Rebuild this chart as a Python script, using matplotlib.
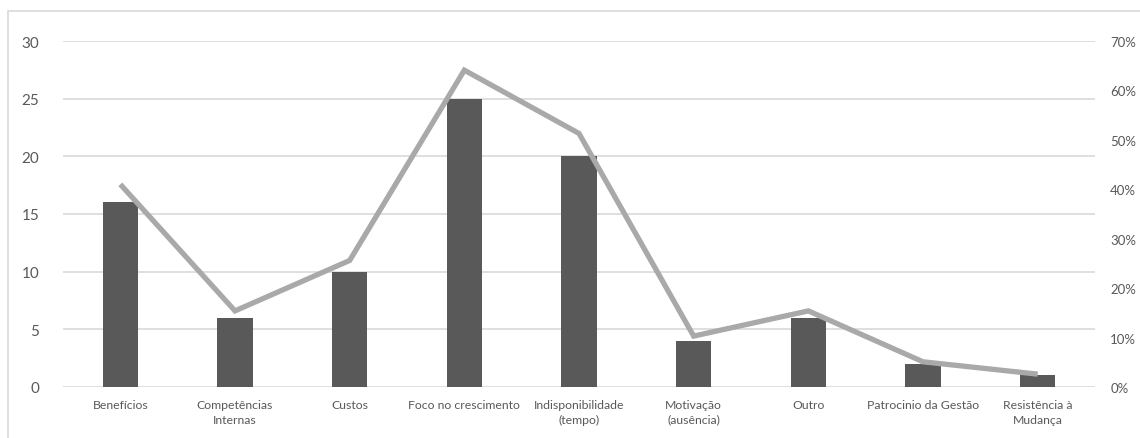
import matplotlib
matplotlib.use("Agg")
import matplotlib.pyplot as plt
from matplotlib.patches import Rectangle
from matplotlib.ticker import FuncFormatter, MultipleLocator

categories = ["Benefícios", "Competências\nInternas", "Custos", "Foco no crescimento",
              "Indisponibilidade\n(tempo)", "Motivação\n(ausência)", "Outro",
              "Patrocinio da Gestão", "Resistência à\nMudança"]
counts = [16, 6, 10, 25, 20, 4, 6, 2, 1]
percent = [41.0, 15.4, 25.6, 64.1, 51.3, 10.3, 15.4, 5.1, 2.6]

plt.rcParams['font.family'] = ['Lato', 'DejaVu Sans']
text_color = "#595959"

fig = plt.figure(figsize=(11.4, 4.39), dpi=100)
fig.patches.append(Rectangle((8 / 1140, -0.1), 1.2, (439 - 12) / 439 + 0.1,
                             transform=fig.transFigure, fill=False,
                             edgecolor="#D9D9D9", linewidth=1.2, zorder=0))

ax = fig.add_axes([63 / 1140, 51 / 439, 1032 / 1140, 346 / 439])
x = list(range(len(categories)))
ax.bar(x, counts, width=0.31, color="#595959", zorder=2)
ax.set_xlim(-0.5, len(categories) - 0.5)
ax.set_ylim(0, 30)
ax.yaxis.set_major_locator(MultipleLocator(5))
ax.grid(axis="y", color="#D9D9D9", linewidth=1.2, zorder=0)
ax.set_axisbelow(True)
for s in ax.spines.values():
    s.set_visible(False)
ax.set_xticks(x)
ax.set_xticklabels(categories, fontsize=8.8, color=text_color, linespacing=1.35)
ax.tick_params(axis="x", length=0, pad=9)
ax.tick_params(axis="y", length=0, pad=17, labelsize=11, labelcolor=text_color)

ax2 = ax.twinx()
ax2.plot(x, percent, color="#A9A9A9", linewidth=3.8, solid_capstyle="butt",
         solid_joinstyle="miter", zorder=3)
ax2.set_ylim(0, 70)
ax2.yaxis.set_major_locator(MultipleLocator(10))
ax2.yaxis.set_major_formatter(FuncFormatter(lambda v, p: f"{v:.0f}%"))
ax2.tick_params(axis="y", length=0, pad=11, labelsize=9.5, labelcolor=text_color)
for s in ax2.spines.values():
    s.set_visible(False)

fig.savefig("out.png", dpi=100)
